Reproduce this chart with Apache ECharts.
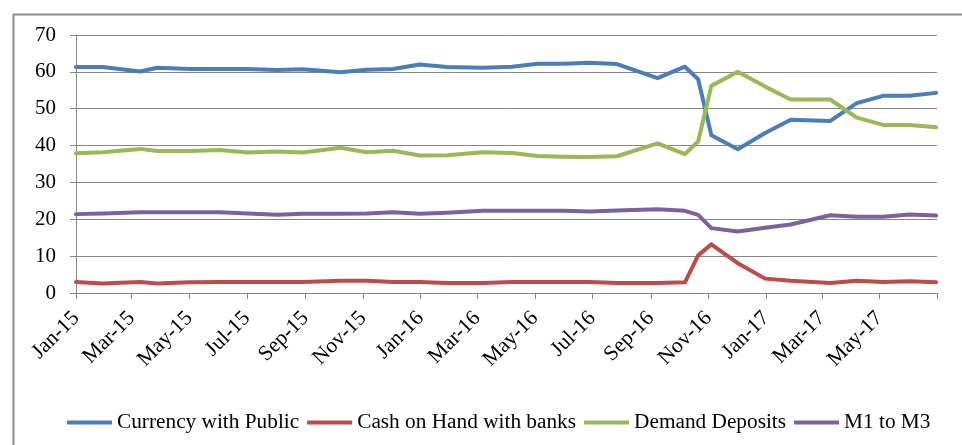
<!DOCTYPE html>
<html>
<head>
<meta charset="utf-8">
<script src="https://cdn.jsdelivr.net/npm/echarts@6/dist/echarts.min.js"></script>
<style>
  html, body { margin: 0; padding: 0; background: #fff; }
  #echarts { width: 962px; height: 445px; }
</style>
</head>
<body>
<div id="echarts"></div>
<script>
// reporting dates (fortnightly Fridays, irregular)
var dates = ['2015-01-01','2015-01-29','2015-03-10','2015-03-28','2015-05-02','2015-06-02','2015-07-02','2015-08-02',
    '2015-08-29','2015-10-08','2015-11-05','2015-12-03','2015-12-31','2016-01-29','2016-03-07','2016-04-07',
    '2016-05-04','2016-05-31','2016-06-28','2016-07-27','2016-09-08','2016-10-07','2016-10-21','2016-11-04',
    '2016-12-02','2016-12-31','2017-01-27','2017-03-10','2017-04-07','2017-05-05','2017-06-02','2017-06-30'];

var currencyWithPublic = [61.3, 61.3, 60.1, 61.1, 60.8, 60.8, 60.8, 60.5, 60.7, 59.9, 60.6, 60.8, 62.0, 61.3, 61.1, 61.4,
    62.2, 62.2, 62.5, 62.1, 58.3, 61.4, 58.0, 42.8, 39.0, 43.4, 47.0, 46.7, 51.5, 53.5, 53.5, 54.3];
var cashWithBanks = [3.0, 2.6, 3.0, 2.6, 2.9, 3.0, 3.0, 3.0, 3.0, 3.3, 3.3, 3.0, 3.0, 2.7, 2.7, 3.0,
    3.0, 3.0, 3.0, 2.7, 2.7, 2.9, 10.2, 13.2, 8.1, 3.9, 3.3, 2.7, 3.3, 3.0, 3.2, 2.9];
var demandDeposits = [37.9, 38.2, 39.1, 38.5, 38.5, 38.8, 38.1, 38.4, 38.1, 39.4, 38.2, 38.6, 37.3, 37.4, 38.2, 38.0,
    37.2, 37.0, 36.9, 37.1, 40.6, 37.7, 41.1, 56.2, 60.0, 56.0, 52.5, 52.5, 47.6, 45.6, 45.6, 45.0];
var m1ToM3 = [21.4, 21.6, 21.9, 21.9, 21.9, 21.9, 21.6, 21.2, 21.5, 21.5, 21.6, 21.9, 21.5, 21.8, 22.3, 22.3,
    22.3, 22.3, 22.1, 22.4, 22.7, 22.3, 21.2, 17.6, 16.7, 17.7, 18.6, 21.1, 20.7, 20.7, 21.3, 21.0];

var seriesNames = ['Currency with Public', 'Cash on Hand with banks', 'Demand Deposits', 'M1 to M3'];
var seriesColors = ['#4a7ebb', '#be4b48', '#98b954', '#7d60a0'];
var monthNames = ['Jan','Feb','Mar','Apr','May','Jun','Jul','Aug','Sep','Oct','Nov','Dec'];

function toTime(s) {
    var p = s.split('-');
    return new Date(+p[0], +p[1] - 1, +p[2]).getTime();
}

// major ticks every 2 months, Jan-15 .. Jul-17
var tickValues = [];
for (var m = 0; m <= 30; m += 2) {
    tickValues.push(new Date(2015, m, 1).getTime());
}
var labelValues = tickValues.slice(0, tickValues.length - 1);

var font = 'Liberation Serif, Times New Roman, serif';
var gray = '#868686';

var myEChart = echarts.init(document.getElementById('echarts'));

var seriesArray = [];
[currencyWithPublic, cashWithBanks, demandDeposits, m1ToM3].forEach(function (values, i) {
    seriesArray.push({
        name: seriesNames[i],
        type: 'line',
        symbol: 'none',
        color: seriesColors[i],
        lineStyle: { width: 4, color: seriesColors[i], join: 'round', cap: 'round' },
        data: values.map(function (v, k) { return [toTime(dates[k]), v]; })
    });
});

var chartOption = {
    animation: false,
    backgroundColor: '#fff',
    graphic: [{
        type: 'rect',
        left: 11, top: 12,
        shape: { width: 980, height: 460 },
        style: { fill: 'none', stroke: '#8c8c8c', lineWidth: 2 },
        silent: true
    }],
    grid: { left: 76, right: 25, top: 35, bottom: 152 },
    legend: {
        data: seriesNames,
        left: 62,
        top: 407,
        icon: 'rect',
        itemWidth: 45,
        itemHeight: 4,
        itemGap: 8,
        textStyle: { fontFamily: font, fontSize: 21.3, color: '#000' }
    },
    xAxis: {
        type: 'value',
        min: tickValues[0],
        max: tickValues[tickValues.length - 1],
        axisLine: { show: true, lineStyle: { color: gray, width: 1 } },
        axisTick: { show: true, length: 6, lineStyle: { color: gray }, customValues: tickValues },
        splitLine: { show: false },
        axisLabel: {
            customValues: labelValues,
            rotate: 45,
            margin: 22,
            fontFamily: font,
            fontSize: 21.5,
            color: '#000',
            formatter: function (value) {
                var d = new Date(value);
                return monthNames[d.getMonth()] + '-' + String(d.getFullYear()).slice(2);
            }
        }
    },
    yAxis: {
        type: 'value',
        min: 0,
        max: 70,
        interval: 10,
        axisLine: { show: true, lineStyle: { color: gray, width: 1 } },
        axisTick: { show: true, length: 6, lineStyle: { color: gray } },
        splitLine: { show: true, lineStyle: { color: gray, width: 1 } },
        axisLabel: { margin: 20, fontFamily: font, fontSize: 21, color: '#000' }
    },
    series: seriesArray
};

myEChart.setOption(chartOption);
</script>
</body>
</html>
